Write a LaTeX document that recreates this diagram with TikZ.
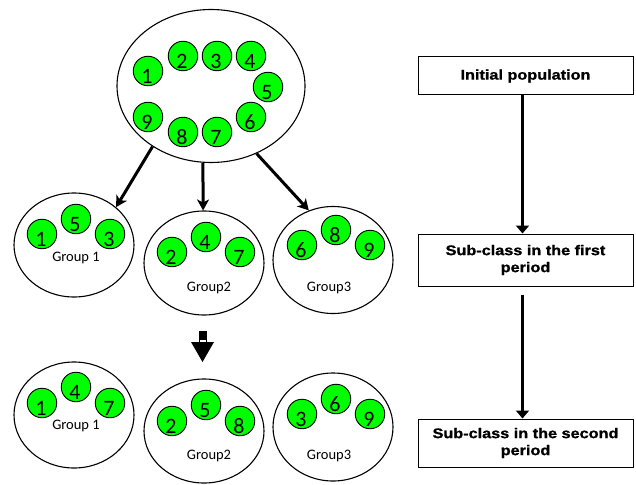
\documentclass[tikz,border=0pt]{standalone}
\usepackage{fontspec}
\usetikzlibrary{shapes.geometric,arrows.meta}
\newfontfamily\digitfont{Carlito}
\newfontfamily\boxfont{Liberation Sans Bold}[FakeStretch=1.16,FakeBold=1.2]
\definecolor{ballgreen}{RGB}{0,255,0}
\newcommand\ballat[3]{%
  \node[ball] (#1) at (#2) {};
  \node[num] (#1n) at ([xshift=-1pt,yshift=-12.5pt]#1.center) {#3};}
\begin{document}
\begin{tikzpicture}[x=1pt,y=-1pt,
  ball/.style={circle,draw=black,fill=ballgreen,minimum size=29.5pt,inner sep=0pt,line width=0.9pt},
  num/.style={anchor=base,inner sep=0pt,font=\digitfont\fontsize{22}{22}\selectfont},
  grp/.style={ellipse,draw=black,line width=1.1pt,inner sep=0pt,minimum width=120pt},
  glabel/.style={inner sep=0pt,font=\digitfont\fontsize{14.5}{14.5}\selectfont},
  bigarr/.style={line width=3pt,-{Stealth[length=11pt,width=12pt,inset=3pt]}},
  flow/.style={line width=2.3pt,-{Triangle[length=8pt,width=13pt]}},
  stepbox/.style={draw=black,line width=1pt,minimum width=215pt,inner sep=0pt,align=center,
     font=\boxfont\fontsize{14}{17}\selectfont}]
\useasboundingbox (0,0) rectangle (636,484);

% initial population
\node[ellipse,draw=black,line width=1.1pt,minimum width=188pt,minimum height=153pt,inner sep=0pt] (pop) at (211,86) {};
\ballat{a1}{148,71}{1}
\ballat{a2}{183,56}{2}
\ballat{a3}{217,56}{3}
\ballat{a4}{251,56}{4}
\ballat{a5}{268,87}{5}
\ballat{a6}{251,117}{6}
\ballat{a7}{217,132}{7}
\ballat{a8}{183,132}{8}
\ballat{a9}{148,117}{9}

% first period groups
\node[grp,minimum height=104pt] (g1) at (74,245) {};
\ballat{b1}{42,234}{1}
\ballat{b5}{76,219}{5}
\ballat{b3}{110,234}{3}
\node[glabel] (g1l) at (76,258) {Group 1};

\node[grp,minimum height=104pt] (g2) at (204,263) {};
\ballat{b2}{172,252}{2}
\ballat{b4}{206,237}{4}
\ballat{b7}{240,252}{7}
\node[glabel] (g2l) at (209,288) {Group2};

\node[grp,minimum height=107pt] (g3) at (333,260) {};
\ballat{b6}{302,245}{6}
\ballat{b8}{336,230}{8}
\ballat{b9}{370,245}{9}
\node[glabel] (g3l) at (329,288) {Group3};

\draw[bigarr] (pop.226) -- (g1.42);
\draw[bigarr] (pop.264) -- (g2.91);
\draw[bigarr] (pop.304) -- (g3.116);

% block arrow
\fill[black] (198.5,331) rectangle (207,339);
\draw[fill=white,line width=0.8pt] (199,339) rectangle (206.5,342);
\fill[black] (191,342) -- (214,342) -- (202.5,362) -- cycle;

% second period groups
\node[grp,minimum height=106pt] (h1) at (74,415) {};
\ballat{c1}{42,403}{1}
\ballat{c4}{76,387}{4}
\ballat{c7}{110,403}{7}
\node[glabel] (h1l) at (76,426) {Group 1};

\node[grp,minimum height=104pt] (h2) at (204,431) {};
\ballat{c2}{172,421}{2}
\ballat{c5}{206,405}{5}
\ballat{c8}{240,421}{8}
\node[glabel] (h2l) at (209,456) {Group2};

\node[grp,minimum height=108pt] (h3) at (333,427) {};
\ballat{c3}{302,414}{3}
\ballat{c6}{336,399}{6}
\ballat{c9}{370,414}{9}
\node[glabel] (h3l) at (329,456) {Group3};

% flow chart
\node[stepbox,minimum height=38pt] (s1) at (525.5,76) {Initial population};
\node[stepbox,minimum height=52pt] (s2) at (525.5,260) {Sub-class in the first\\period};
\node[stepbox,minimum height=48pt] (s3) at (525.5,443) {Sub-class in the second\\period};
\draw[flow] ([xshift=-3pt]s1.south) -- ([xshift=-3pt]s2.north);
\draw[flow,shorten <=8pt] ([xshift=-3pt]s2.south) -- ([xshift=-3pt]s3.north);
\end{tikzpicture}
\end{document}
